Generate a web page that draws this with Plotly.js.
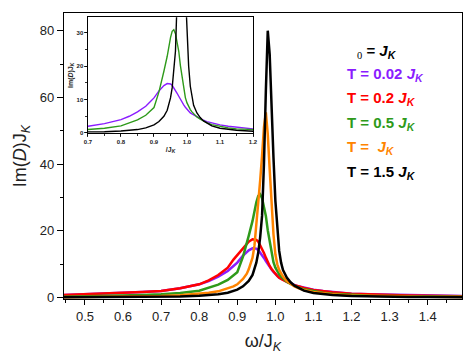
<!DOCTYPE html>
<html>
<head>
<meta charset="utf-8">
<script src="https://cdn.plot.ly/plotly-3.0.1.min.js"></script>
<style>html,body{margin:0;padding:0;background:#fff;}#chart{width:469px;height:359px;}</style>
</head>
<body>
<div id="chart"></div>
<script>
// ω / J_K sample points
const omega = [0.445, 0.5, 0.55, 0.6, 0.65, 0.7, 0.75, 0.8, 0.825, 0.85, 0.875, 0.89, 0.9, 0.915, 0.925, 0.93, 0.94, 0.945, 0.95, 0.955, 0.96, 0.965, 0.97, 0.975, 0.98, 0.985, 0.99, 0.995, 1.0, 1.005, 1.01, 1.015, 1.02, 1.03, 1.04, 1.05, 1.06, 1.075, 1.1, 1.125, 1.15, 1.2, 1.25, 1.3, 1.35, 1.4, 1.49];

// Im(D) J_K for each temperature
const T002 = [0.8, 1.0, 1.2, 1.4, 1.7, 2.0, 2.8, 4.0, 5.0, 6.3, 8.0, 9.5, 10.5, 12.6, 13.6, 14.2, 14.8, 14.85, 14.7, 14.3, 13.6, 12.7, 11.9, 11.0, 10.0, 9.2, 8.4, 7.7, 7.1, 6.5, 6.0, 5.7, 5.4, 4.8, 4.2, 3.8, 3.4, 3.0, 2.4, 2.0, 1.7, 1.2, 1.0, 0.85, 0.7, 0.6, 0.5];
const T02  = [0.8, 1.0, 1.2, 1.4, 1.7, 2.0, 2.8, 4.0, 5.2, 6.8, 9.0, 11.4, 12.8, 14.8, 16.0, 16.8, 17.5, 17.5, 17.3, 16.8, 15.8, 14.6, 13.4, 12.0, 10.6, 9.5, 8.6, 7.8, 7.1, 6.5, 6.0, 5.6, 5.3, 4.7, 4.1, 3.7, 3.4, 2.9, 2.3, 1.9, 1.6, 1.2, 0.95, 0.8, 0.65, 0.55, 0.45];
const T05  = [0.3, 0.4, 0.5, 0.6, 0.8, 1.0, 1.4, 2.1, 2.9, 3.9, 5.3, 6.6, 7.6, 12.3, 16.0, 18.5, 23.0, 26.0, 28.6, 30.5, 31.0, 29.8, 27.6, 24.5, 20.2, 16.6, 13.2, 10.6, 9.0, 7.8, 7.0, 6.3, 5.7, 4.8, 4.1, 3.5, 3.1, 2.5, 1.9, 1.5, 1.2, 0.8, 0.6, 0.5, 0.4, 0.35, 0.3];
const T1   = [0.15, 0.2, 0.25, 0.3, 0.4, 0.5, 0.7, 1.1, 1.45, 1.9, 2.7, 3.4, 4.0, 5.6, 7.2, 8.5, 12.0, 15.5, 22.0, 28.0, 35.0, 42.5, 51.0, 55.5, 49.0, 38.5, 27.0, 19.0, 13.0, 10.0, 8.3, 7.2, 6.3, 5.0, 4.1, 3.4, 2.9, 2.3, 1.7, 1.3, 1.0, 0.65, 0.5, 0.4, 0.3, 0.25, 0.2];
const T15  = [0.1, 0.12, 0.14, 0.17, 0.2, 0.25, 0.35, 0.55, 0.75, 1.0, 1.5, 2.0, 2.4, 3.4, 4.4, 5.0, 6.8, 8.4, 10.5, 13.5, 18.0, 24.5, 40.0, 62.0, 80.0, 73.0, 54.0, 42.0, 29.0, 20.0, 14.0, 10.5, 8.3, 6.0, 4.6, 3.6, 2.9, 2.1, 1.4, 1.05, 0.8, 0.5, 0.35, 0.28, 0.22, 0.2, 0.15];

const seriesNames = ['T = 0.02 J_K', 'T = 0.2 J_K', 'T = 0.5 J_K', 'T = J_K', 'T = 1.5 J_K'];
const seriesData = [T002, T02, T05, T1, T15];
const colors = ['#8a1cff', '#ff0000', '#2e9a1a', '#ff8400', '#000000'];

// inset shows these series
const insetIdx = [0, 2, 4];

const legendLines = [
  {text: '<span style="font-family:\'Liberation Serif\',serif;font-weight:normal"><sub>0</sub></span> <b>= <i>J</i><sub><i>K</i></sub></b>', color: '#000000', dx: 10},
  {text: '<b>T = 0.02 <i>J</i><sub><i>K</i></sub></b>', color: colors[0], dx: 0},
  {text: '<b>T = 0.2 <i>J</i><sub><i>K</i></sub></b>', color: colors[1], dx: 0},
  {text: '<b>T = 0.5 <i>J</i><sub><i>K</i></sub></b>', color: colors[2], dx: 0},
  {text: '<b>T = &nbsp;<i>J</i><sub><i>K</i></sub></b>', color: colors[3], dx: 0},
  {text: '<b>T = 1.5 <i>J</i><sub><i>K</i></sub></b>', color: colors[4], dx: 0}
];
const legendY = [0.865, 0.784, 0.702, 0.615, 0.528, 0.441];

const traces = [];
seriesData.forEach((ys, i) => {
  traces.push({
    x: omega, y: ys, type: 'scatter', mode: 'lines', name: seriesNames[i],
    line: {color: colors[i], width: 2.5, shape: 'linear'},
    xaxis: 'x', yaxis: 'y', showlegend: false, hoverinfo: 'skip'
  });
});
insetIdx.forEach(i => {
  traces.push({
    x: omega, y: seriesData[i], type: 'scatter', mode: 'lines', name: seriesNames[i] + ' (inset)',
    line: {color: colors[i], width: 1.4, shape: 'linear'},
    xaxis: 'x2', yaxis: 'y2', showlegend: false, hoverinfo: 'skip'
  });
});

const tickFont = {family: 'Liberation Sans, Arial, sans-serif', size: 13, color: '#222'};
const insetFont = {family: 'Liberation Sans, Arial, sans-serif', size: 6, color: '#222', weight: 'bold'};

const layout = {
  width: 469, height: 359,
  margin: {l: 64, r: 7, t: 13, b: 60},
  paper_bgcolor: '#fff', plot_bgcolor: '#fff',
  showlegend: false,
  xaxis: {
    domain: [0, 1], range: [0.445, 1.49], anchor: 'y',
    tickmode: 'array', tickvals: [0.5,0.6,0.7,0.8,0.9,1.0,1.1,1.2,1.3,1.4],
    ticktext: ['0.5','0.6','0.7','0.8','0.9','1.0','1.1','1.2','1.3','1.4'],
    ticks: 'outside', ticklen: 5, tickwidth: 1, tickcolor: '#000',
    minor: {dtick: 0.05, tick0: 0.45, ticks: 'outside', ticklen: 3, tickcolor: '#000', showgrid: false},
    showline: true, mirror: true, linecolor: '#000', linewidth: 1.2,
    showgrid: false, zeroline: false, tickfont: tickFont,
    title: {text: 'ω/J<sub><i>K</i></sub>', font: {family: 'Liberation Sans, Arial, sans-serif', size: 18, color: '#222'}, standoff: 11}
  },
  yaxis: {
    domain: [0, 1], range: [-0.4, 85.3], anchor: 'x',
    tickvals: [0, 20, 40, 60, 80],
    ticks: 'outside', ticklen: 6, tickwidth: 1, tickcolor: '#000',
    minor: {dtick: 10, tick0: 0, ticks: 'outside', ticklen: 3, tickcolor: '#000', showgrid: false},
    showline: true, mirror: true, linecolor: '#000', linewidth: 1.2,
    showgrid: false, zeroline: false, tickfont: tickFont,
    title: {text: 'Im(<i>D</i>)J<sub><i>K</i></sub>', font: {family: 'Liberation Sans, Arial, sans-serif', size: 18, color: '#222'}, standoff: 8}
  },
  xaxis2: {
    domain: [0.0603, 0.4749], range: [0.7, 1.2], anchor: 'y2',
    tickvals: [0.7, 0.8, 0.9, 1.0, 1.1, 1.2],
    ticktext: ['0.7','0.8','0.9','1.0','1.1','1.2'],
    ticks: 'outside', ticklen: 2.5, tickwidth: 0.8, tickcolor: '#000',
    minor: {dtick: 0.05, tick0: 0.7, ticks: 'outside', ticklen: 1.5, tickcolor: '#000', showgrid: false},
    showline: true, mirror: true, linecolor: '#000', linewidth: 1,
    showgrid: false, zeroline: false, tickfont: insetFont,
    title: {text: '<b>/J<sub><i>K</i></sub></b>', font: {family: 'Liberation Sans, Arial, sans-serif', size: 7, color: '#222'}, standoff: 2}
  },
  yaxis2: {
    domain: [0.579, 0.985], range: [-0.15, 34.7], anchor: 'x2',
    tickvals: [0, 10, 20, 30],
    ticks: 'outside', ticklen: 2.5, tickwidth: 0.8, tickcolor: '#000',
    minor: {dtick: 5, tick0: 0, ticks: 'outside', ticklen: 1.5, tickcolor: '#000', showgrid: false},
    showline: true, mirror: true, linecolor: '#000', linewidth: 1,
    showgrid: false, zeroline: false, tickfont: insetFont,
    title: {text: '<b>Im(<i>D</i>)J<sub><i>K</i></sub></b>', font: {family: 'Liberation Sans, Arial, sans-serif', size: 7, color: '#222'}, standoff: 2}
  },
  shapes: [{
    type: 'rect', xref: 'paper', yref: 'paper', x0: 0.0603, x1: 0.4749, y0: 0.579, y1: 0.985,
    fillcolor: '#fff', line: {width: 0}, layer: 'below'
  }],
  annotations: legendLines.map((l, i) => ({
    xref: 'paper', yref: 'paper', x: 0.706 + l.dx / 398, y: legendY[i],
    xanchor: 'left', yanchor: 'middle', showarrow: false,
    text: l.text,
    font: {family: 'Liberation Sans, Arial, sans-serif', size: 15, color: l.color}
  }))
};

Plotly.newPlot('chart', traces, layout, {staticPlot: true, displayModeBar: false});
</script>
</body>
</html>
